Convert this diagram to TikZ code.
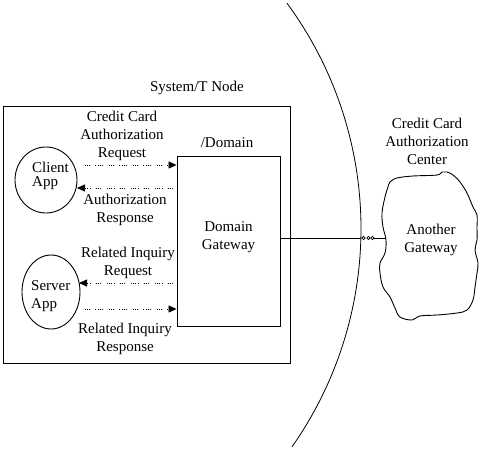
\documentclass[tikz,border=0pt]{standalone}
\usepackage{fontspec}
\setmainfont{Liberation Serif}
\usetikzlibrary{arrows.meta,shapes.geometric}
\begin{document}
\begin{tikzpicture}[x=1pt,y=-1pt,
  every node/.style={font=\fontsize{15}{18}\selectfont, inner sep=0pt},
  lbl/.style={align=center},
  box/.style={draw, line width=0.9pt},
  app/.style={draw, ellipse, line width=0.9pt},
  flow/.style={line width=0.8pt, dash pattern=on 1pt off 1.2pt on 1pt off 1.2pt on 1pt off 5pt on 1pt off 1.2pt on 1pt off 1.2pt on 1pt off 1.2pt on 1pt off 6pt, -{Triangle[length=8pt,width=7pt]}},
  link/.style={line width=0.9pt}]
\useasboundingbox (0,0) rectangle (481,450);
% outer system box
\node[box, minimum width=287pt, minimum height=257pt] (sys) at (146.5,234.5) {};
\node (systitle) at (197,88) {System/T Node};
% domain gateway
\node[box, minimum width=103pt, minimum height=170pt] (gw) at (228.5,241) {};
\node[lbl] (gwtxt) at (228.5,237) {Domain\\Gateway};
\node (domlbl) at (227,143) {/Domain};
% client and server apps
\node[app, minimum width=62pt, minimum height=66pt] (client) at (46,180) {};
\node[align=left, anchor=west, font=\fontsize{15}{14}\selectfont] (clienttxt) at (32,176) {Client\\App};
\node[app, minimum width=58pt, minimum height=74pt] (server) at (51,292) {};
\node[align=left, anchor=west] (servertxt) at (31,296) {Server\\App};
% flow labels
\node[lbl] (l1) at (122,136) {Credit Card\\Authorization\\Request};
\node[lbl] (l2) at (125,210) {Authorization\\Response};
\node[lbl] (l3) at (128,263) {Related Inquiry\\Request};
\node[lbl] (l4) at (125,339) {Related Inquiry\\Response};
% flow arrows
\coordinate (c1) at (85,165);
\coordinate (c2) at (173,188);
\coordinate (c3) at (173,283);
\coordinate (c4) at (85,309);
\coordinate (t2) at (77,188);
\coordinate (t3) at (79,283);
\draw[flow] (c1) -- (c1 -| gw.west);
\draw[flow] (c2) -- (t2);
\draw[flow] (c3) -- (t3);
\draw[flow] (c4) -- (c4 -| gw.west);
% boundary arc
\draw[line width=0.8pt, domain=-35.1:36.4, samples=90, variable=\t]
  plot ({-19+380*cos(\t)},{228.5-380*sin(\t)});
\coordinate (arcpt) at (361,238);
\draw[link] (gw.east |- arcpt) -- (arcpt);
\node[draw, circle, minimum size=3.2pt, line width=0.6pt] (o1) at (363.5,238) {};
\node[draw, circle, minimum size=3.2pt, line width=0.6pt] (o2) at (368.5,238) {};
\node[draw, circle, minimum size=3.2pt, line width=0.6pt] (o3) at (372.5,238) {};
% cloud
\draw[line width=0.9pt] plot[smooth cycle, tension=0.6] coordinates {
 (390,182) (397,178) (413,176) (437,175) (442,172) (447,172) (453,175) (460,182)
 (467,193) (473,207) (477,215) (477,227) (477,240) (475,250) (478,263) (477,273)
 (475,287) (473,300) (467,310) (457,313) (437,315) (420,316) (412,320) (400,317)
 (395,308) (390,297) (383,287) (380,273) (380,263) (385,253) (386,240) (383,227)
 (382,213) (385,197) (388,187)};
\coordinate (cloudw) at (386,238);
\draw[link] (o3.east) -- (cloudw);
\node[lbl] (cctr) at (427,141) {Credit Card\\Authorization\\Center};
\node[lbl] (another) at (431,240) {Another\\Gateway};
\end{tikzpicture}
\end{document}
